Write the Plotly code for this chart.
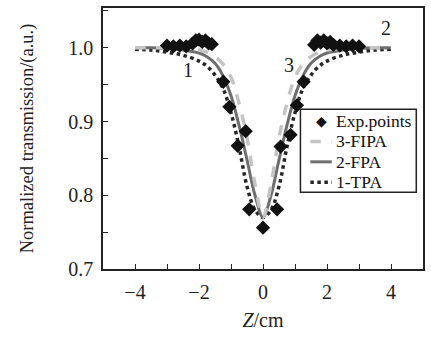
import plotly.graph_objects as go

# ---------------- data ----------------
exp_z = [-3.0, -2.8, -2.6, -2.4, -2.2, -2.1, -2.0, -1.9, -1.8, -1.7, -1.6,
         -1.24, -1.05, -0.79, -0.54, -0.43, 0.0, 0.44, 0.55, 0.86, 1.06, 1.27,
         1.6, 1.7, 1.8, 1.9, 2.0, 2.1, 2.2, 2.4, 2.6, 2.8, 3.0]
exp_t = [1.003, 1.002, 1.003, 1.002, 1.006, 1.010, 1.011, 1.008, 1.010, 1.006, 1.005,
         0.954, 0.920, 0.867, 0.887, 0.781, 0.756, 0.781, 0.866, 0.882, 0.922, 0.954,
         1.004, 1.010, 1.007, 1.010, 1.006, 1.008, 1.004, 1.003, 1.002, 1.003, 1.002]

curve_z = [-4.0, -3.5, -3.0, -2.5, -2.0, -1.75, -1.5, -1.25, -1.0, -0.75, -0.5, -0.25, 0.0,
           0.25, 0.5, 0.75, 1.0, 1.25, 1.5, 1.75, 2.0, 2.5, 3.0, 3.5, 4.0]
tpa_t = [0.998, 0.997, 0.994, 0.990, 0.982, 0.975, 0.963, 0.945, 0.912, 0.866, 0.812, 0.780, 0.770,
         0.780, 0.812, 0.866, 0.912, 0.945, 0.963, 0.975, 0.982, 0.990, 0.994, 0.997, 0.998]
fpa_t = [1.000, 1.000, 0.999, 0.997, 0.993, 0.988, 0.979, 0.962, 0.935, 0.895, 0.848, 0.800, 0.770,
         0.800, 0.848, 0.895, 0.935, 0.962, 0.979, 0.988, 0.993, 0.997, 0.999, 1.000, 1.000]
fipa_t = [1.000, 1.000, 1.000, 0.999, 0.997, 0.994, 0.988, 0.978, 0.960, 0.925, 0.878, 0.815, 0.770,
          0.815, 0.878, 0.925, 0.960, 0.978, 0.988, 0.994, 0.997, 0.999, 1.000, 1.000, 1.000]

legend_labels = ["Exp.points", "3-FIPA", "2-FPA", "1-TPA"]
curve_labels = ["1", "2", "3"]
x_ticks = [-4, -2, 0, 2, 4]
y_ticks = [0.7, 0.8, 0.9, 1.0]

FONT = "Liberation Serif, Times New Roman, serif"
C_TPA, C_FPA, C_FIPA = "#262626", "#6e6e6e", "#c4c4c4"

fig = go.Figure()
fig.add_trace(go.Scatter(x=curve_z, y=tpa_t, mode="lines", line=dict(color=C_TPA, width=3.5, dash="dot"),
                         line_shape="spline", showlegend=False))
fig.add_trace(go.Scatter(x=curve_z, y=fpa_t, mode="lines", line=dict(color=C_FPA, width=3),
                         line_shape="spline", showlegend=False))
fig.add_trace(go.Scatter(x=curve_z, y=fipa_t, mode="lines", line=dict(color=C_FIPA, width=3.5, dash="dash"),
                         line_shape="spline", showlegend=False))
fig.add_trace(go.Scatter(x=exp_z, y=exp_t, mode="markers",
                         marker=dict(symbol="diamond", size=11, color="#111"), showlegend=False))

# curve number labels
for txt, (ax, ay) in zip(curve_labels, [(-2.35, 0.970), (3.84, 1.027), (0.80, 0.977)]):
    fig.add_annotation(x=ax, y=ay, text=txt, showarrow=False, xref="x", yref="y",
                       xanchor="center", yanchor="middle",
                       font=dict(family=FONT, size=20, color="#222"))

# manual legend
fig.add_shape(type="rect", xref="paper", yref="paper", x0=0.617, x1=0.979, y0=0.294, y1=0.612,
              line=dict(color="#222", width=1.5), fillcolor="white", layer="above")
rows = [0.5665, 0.4886, 0.4106, 0.3327]
sym_styles = [None, dict(color=C_FIPA, width=3.5, dash="dash"),
              dict(color=C_FPA, width=3), dict(color=C_TPA, width=3.5, dash="dot")]
for lab, ry, st in zip(legend_labels, rows, sym_styles):
    if st is None:
        fig.add_annotation(x=0.684, y=ry, xref="paper", yref="paper", text="◆", showarrow=False,
                           xanchor="center", yanchor="middle",
                           font=dict(family="DejaVu Sans", size=14, color="#111"))
    else:
        fig.add_shape(type="line", xref="paper", yref="paper", x0=0.648, x1=0.715, y0=ry, y1=ry,
                      line=st, layer="above")
    fig.add_annotation(x=0.722, y=ry, xref="paper", yref="paper", text=lab, showarrow=False,
                       xanchor="left", yanchor="middle",
                       font=dict(family=FONT, size=17.5, color="#111"))

fig.update_layout(
    width=431, height=337, margin=dict(l=103, r=6, t=6, b=68),
    plot_bgcolor="white", paper_bgcolor="white",
    font=dict(family=FONT, size=20, color="#222"),
)
fig.update_xaxes(range=[-5, 5], tickvals=x_ticks, ticks="inside", ticklen=5, tickcolor="#222",
                 minor=dict(dtick=1, ticks="inside", ticklen=5, tickcolor="#222"),
                 showline=True, linecolor="#222", linewidth=1.5, mirror=True, showgrid=False,
                 zeroline=False, ticklabelstandoff=4,
                 title=dict(text="<i>Z</i>/cm", font=dict(size=20), standoff=11))
fig.update_yaxes(range=[0.7, 1.054], tickvals=y_ticks, tickformat=".1f", ticks="inside", ticklen=5,
                 tickcolor="#222", minor=dict(dtick=0.05, ticks="inside", ticklen=5, tickcolor="#222"),
                 showline=True, linecolor="#222", linewidth=1.5, mirror=True, showgrid=False,
                 zeroline=False, ticklabelstandoff=4,
                 title=dict(text="Normalized transmission/(a.u.)", font=dict(size=18.5), standoff=30))

fig.write_html("out.html", config={"displayModeBar": False},
               post_script="document.body.style.margin='0';document.body.style.overflow='hidden';")
